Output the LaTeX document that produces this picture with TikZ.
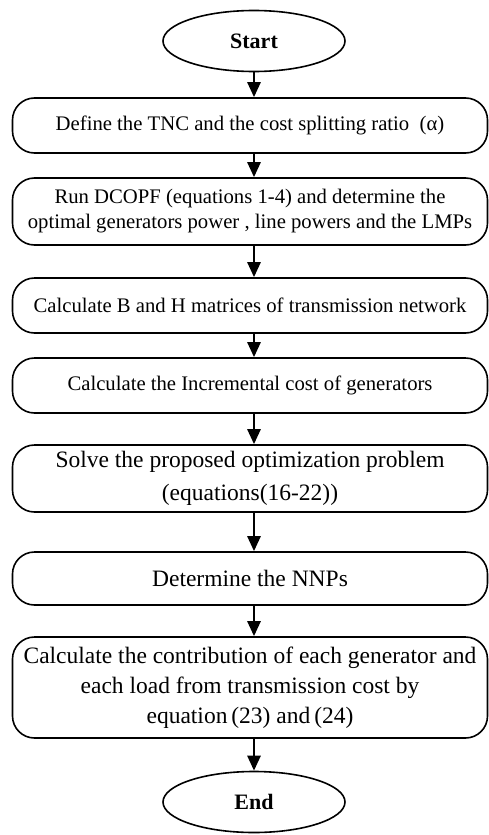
\documentclass[tikz,border=0pt]{standalone}
\usepackage{fontspec}
\setmainfont{Liberation Serif}
\usetikzlibrary{arrows.meta,shapes,positioning}

\begin{document}
\begin{tikzpicture}[x=1pt, y=-1pt, line width=1.6pt, main node/.style={rectangle,rounded corners=22pt,draw,minimum width=475pt,align=center,inner sep=2pt,font=\fontsize{20.7}{25}\selectfont},big node/.style={main node,font=\fontsize{23.5}{30}\selectfont},term node/.style={ellipse,draw,minimum width=182pt,minimum height=61pt,font=\fontsize{22}{26}\selectfont\bfseries}]%
\useasboundingbox (0,0) rectangle (489,835);
\begin{scope}
\node[term node] (vStart) at (254,41) {Start};
\node[main node, minimum height=55pt] (v1) at (250,125.5) {Define the TNC and the cost splitting ratio\ \ (α)};
\node[main node, minimum height=67pt] (v2) at (250,211.5) {Run DCOPF (equations 1-4) and determine the\\optimal generators power , line powers and the LMPs};
\node[main node, minimum height=55pt] (v3) at (250,305.5) {Calculate B and H matrices of transmission network};
\node[main node, minimum height=55pt] (v4) at (250,385.5) {Calculate the Incremental cost of generators};
\node[big node, minimum height=67pt, font=\fontsize{23.5}{33}\selectfont] (v5) at (250,478.5) {Solve the proposed optimization problem\\(equations(16-22))};
\node[big node, minimum height=53pt] (v6) at (250,578.5) {Determine the NNPs};
\node[big node, minimum height=101pt] (v7) at (250,687.5) {Calculate the contribution of each generator and\\each load from transmission cost by\\equation\,(23) and\,(24)};
\node[term node] (vEnd) at (254,802) {End};
\end{scope}
\begin{scope}[every edge/.style={draw=black,line width=2.6pt,-{Triangle[width=13pt,length=15pt]}}]
\draw (vStart) edge (vStart |- v1.north);
\draw (vStart |- v1.south) edge (vStart |- v2.north);
\draw (vStart |- v2.south) edge (vStart |- v3.north);
\draw (vStart |- v3.south) edge (vStart |- v4.north);
\draw (vStart |- v4.south) edge (vStart |- v5.north);
\draw (vStart |- v5.south) edge (vStart |- v6.north);
\draw (vStart |- v6.south) edge (vStart |- v7.north);
\draw (vStart |- v7.south) edge (vEnd);
\end{scope}
\end{tikzpicture}
\end{document}
